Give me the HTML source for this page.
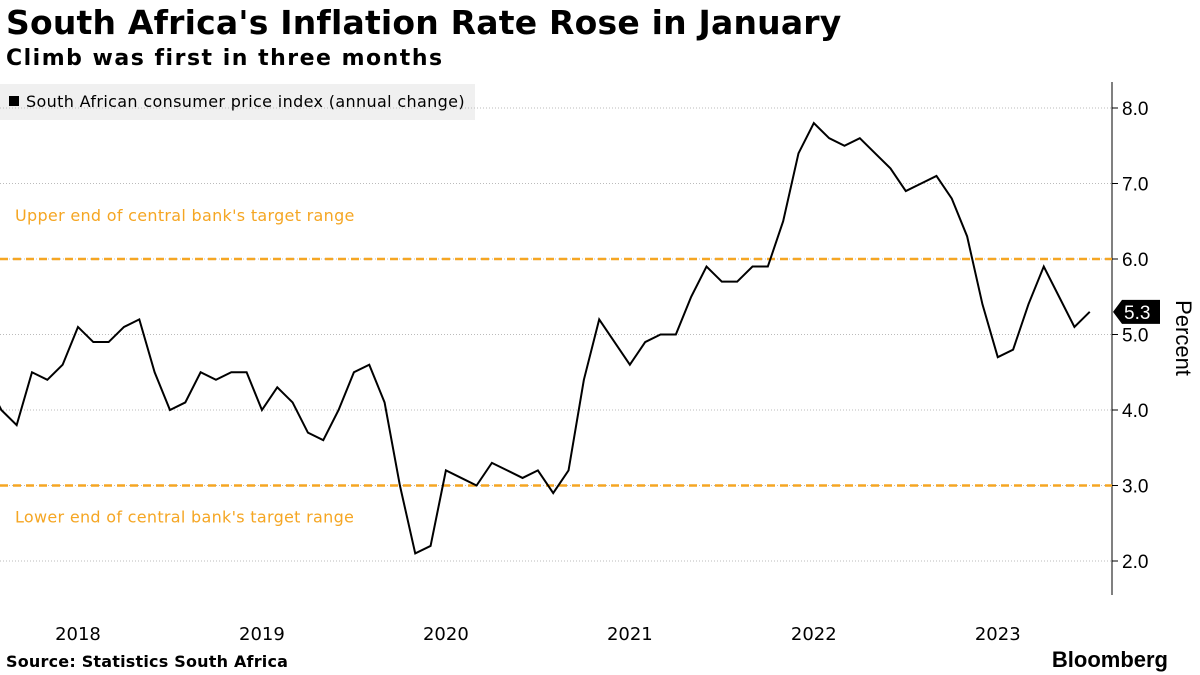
<!DOCTYPE html>
<html><head><meta charset="utf-8">
<style>
body{margin:0;width:1200px;height:675px;background:#fff;font-family:"Liberation Sans",sans-serif;overflow:hidden;position:relative}
.t{position:absolute;left:6px;top:3px;font-size:33px;font-weight:bold;color:#000;font-family:"DejaVu Sans",sans-serif;letter-spacing:0.2px}
.s{position:absolute;left:6px;top:46px;font-size:22px;font-weight:bold;color:#000;font-family:"DejaVu Sans",sans-serif;letter-spacing:1.5px}
.src{position:absolute;left:6px;top:652px;font-size:16px;font-weight:bold;font-family:"DejaVu Sans",sans-serif;letter-spacing:0.2px}
.bb{position:absolute;right:32px;top:647px;font-size:22px;font-weight:bold}
</style></head><body>
<div class="t">South Africa's Inflation Rate Rose in January</div>
<div class="s">Climb was first in three months</div>
<svg width="1200" height="675" style="position:absolute;left:0;top:0" id="c"></svg>
<div class="src">Source: Statistics South Africa</div>
<div class="bb">Bloomberg</div>
<script>
const values=[4.4,4.0,3.8,4.5,4.4,4.6,5.1,4.9,4.9,5.1,5.2,4.5,
4.0,4.1,4.5,4.4,4.5,4.5,4.0,4.3,4.1,3.7,3.6,4.0,
4.5,4.6,4.1,3.0,2.1,2.2,3.2,3.1,3.0,3.3,3.2,3.1,
3.2,2.9,3.2,4.4,5.2,4.9,4.6,4.9,5.0,5.0,5.5,5.9,
5.7,5.7,5.9,5.9,6.5,7.4,7.8,7.6,7.5,7.6,7.4,7.2,
6.9,7.0,7.1,6.8,6.3,5.4,4.7,4.8,5.4,5.9,5.5,5.1,5.3];
const yTicks=[2,3,4,5,6,7,8];
const years=["2018","2019","2020","2021","2022","2023"];
const targets=[6,3];
const targetLabels=["Upper end of central bank's target range","Lower end of central bank's target range"];
const NS="http://www.w3.org/2000/svg",svg=document.getElementById('c');
const x=i=>-14+i*15.33, y=v=>561-(v-2)*75.5;
const DJ='"DejaVu Sans",sans-serif';
function el(t,a,p){const e=document.createElementNS(NS,t);for(const k in a)e.setAttribute(k,a[k]);(p||svg).appendChild(e);return e;}
const lg=el('rect',{x:0,y:84,width:475,height:36,fill:'#f0f0f0'});

el('rect',{x:9,y:96,width:10,height:10,fill:'#000'});
const lt=el('text',{x:26,y:107,'font-size':16,fill:'#000','font-family':DJ,'letter-spacing':0.35});lt.textContent='South African consumer price index (annual change)';

yTicks.forEach(v=>{
 const g=el('line',{x1:0,x2:1112,y1:y(v),y2:y(v),stroke:'#bbb','stroke-dasharray':'1,2'});
 
 el('line',{x1:1112,x2:1118,y1:y(v),y2:y(v),stroke:'#000'});
 const t=el('text',{x:1122,y:y(v)+7,'font-size':19,fill:'#000'});t.textContent=v.toFixed(1);
 
});
const ax=el('line',{x1:1112,x2:1112,y1:82,y2:595,stroke:'#000'});

targets.forEach((v,i)=>{
 const l=el('line',{x1:0,x2:1112,y1:y(v),y2:y(v),stroke:'#f5a623','stroke-width':2.5,'stroke-dasharray':'8,5'});
 
 const t=el('text',{x:15,y:i===0?y(v)-38:y(v)+37,'font-size':16,fill:'#f5a623','font-family':DJ,'letter-spacing':0.3});t.textContent=targetLabels[i];
 
});
years.forEach((yr,i)=>{
 const t=el('text',{x:x(6+12*i),y:640,'font-size':18,fill:'#000','text-anchor':'middle','font-family':DJ});t.textContent=yr;
 
});
const p=el('polyline',{points:values.map((v,i)=>x(i)+','+y(v)).join(' '),fill:'none',stroke:'#000','stroke-width':2});

const last=values[values.length-1],ly=y(last);
const b=el('polygon',{points:`1113,${ly} 1122,${ly-12} 1160,${ly-12} 1160,${ly+12} 1122,${ly+12}`,fill:'#000'});

const bt=el('text',{x:1124,y:ly+7,'font-size':19,fill:'#fff'});bt.textContent=last.toFixed(1);
const yt=el('text',{x:0,y:0,'font-size':22,fill:'#000','text-anchor':'middle',transform:`translate(1176,338) rotate(90)`});yt.textContent='Percent';

</script>
</body></html>
